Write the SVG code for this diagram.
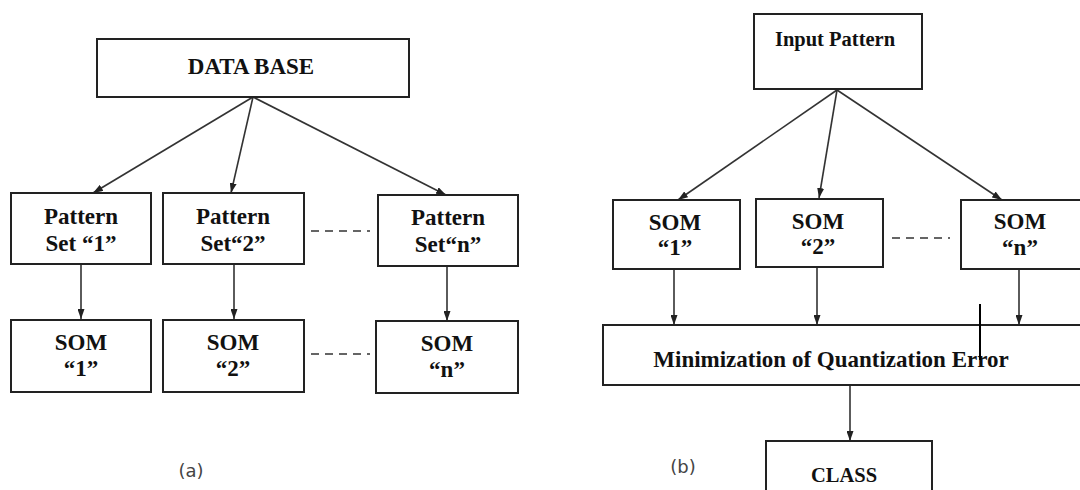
<svg xmlns="http://www.w3.org/2000/svg" width="1080" height="490" viewBox="0 0 1080 490">
  <defs>
    <marker id="ah" viewBox="0 0 10 7" refX="10" refY="3.5" markerWidth="10" markerHeight="7" markerUnits="userSpaceOnUse" orient="auto">
      <path d="M0,0 L10,3.5 L0,7 z" fill="#222"/>
    </marker>
    <style>
      .box { fill: #ffffff; stroke: #222; stroke-width: 2; }
      .t { font-family: "Liberation Serif", "Times New Roman", serif; font-weight: bold; font-size: 23px; fill: #111; text-anchor: middle; }
      .ts { font-size: 20.5px; }
      .conn { stroke: #333; stroke-width: 1.6; fill: none; marker-end: url(#ah); }
      .dash { stroke: #333; stroke-width: 1.6; stroke-dasharray: 8 6; fill: none; }
      .lbl { font-family: "DejaVu Sans", sans-serif; font-size: 18px; fill: #444; text-anchor: middle; }
    </style>
  </defs>
  <rect x="0" y="0" width="1080" height="490" fill="#ffffff"/>

  <!-- (a) -->
  <g id="connectors-a">
    <line class="conn" x1="253" y1="97" x2="93" y2="193"/>
    <line class="conn" x1="253" y1="97" x2="231" y2="193"/>
    <line class="conn" x1="253" y1="97" x2="446" y2="195"/>
    <line class="conn" x1="81" y1="264" x2="81" y2="319"/>
    <line class="conn" x1="234" y1="264" x2="234" y2="319"/>
    <line class="conn" x1="447" y1="266" x2="447" y2="321"/>
    <line class="dash" x1="311" y1="231" x2="370" y2="231"/>
    <line class="dash" x1="311" y1="354" x2="370" y2="354"/>
  </g>

  <g id="database">
    <rect class="box" x="97" y="39" width="312" height="58"/>
    <text class="t" x="251" y="74" font-size="22">DATA BASE</text>
  </g>
  <g id="pattern1">
    <rect class="box" x="11" y="193" width="140" height="71"/>
    <text class="t" x="81" y="224">Pattern</text>
    <text class="t" x="81" y="251">Set “1”</text>
  </g>
  <g id="pattern2">
    <rect class="box" x="163" y="193" width="141" height="71"/>
    <text class="t" x="233" y="224">Pattern</text>
    <text class="t" x="233" y="251">Set“2”</text>
  </g>
  <g id="patternn">
    <rect class="box" x="378" y="195" width="140" height="71"/>
    <text class="t" x="448" y="225">Pattern</text>
    <text class="t" x="448" y="252">Set“n”</text>
  </g>
  <g id="som1a">
    <rect class="box" x="11" y="320" width="140" height="72"/>
    <text class="t" x="81" y="350">SOM</text>
    <text class="t" x="81" y="376">“1”</text>
  </g>
  <g id="som2a">
    <rect class="box" x="163" y="320" width="141" height="72"/>
    <text class="t" x="233" y="350">SOM</text>
    <text class="t" x="233" y="376">“2”</text>
  </g>
  <g id="somna">
    <rect class="box" x="376" y="321" width="142" height="72"/>
    <text class="t" x="447" y="351">SOM</text>
    <text class="t" x="447" y="377">“n”</text>
  </g>
  <text class="lbl" x="191" y="477">(a)</text>

  <!-- (b) -->
  <g id="connectors-b">
    <line class="conn" x1="837" y1="90" x2="678" y2="200"/>
    <line class="conn" x1="837" y1="90" x2="819" y2="198"/>
    <line class="conn" x1="837" y1="90" x2="1002" y2="200"/>
    <line class="conn" x1="674" y1="269" x2="674" y2="325"/>
    <line class="conn" x1="817" y1="267" x2="817" y2="325"/>
    <line class="conn" x1="1019" y1="269" x2="1019" y2="325"/>
    <line class="conn" x1="850" y1="385" x2="850" y2="441"/>
    <line class="dash" x1="892" y1="238" x2="950" y2="238"/>
  </g>

  <g id="input">
    <rect class="box" x="754" y="14" width="168" height="75"/>
    <text class="t ts" x="835" y="46">Input Pattern</text>
  </g>
  <g id="som1b">
    <rect class="box" x="613" y="200" width="127" height="69"/>
    <text class="t" x="675" y="230">SOM</text>
    <text class="t" x="675" y="255">“1”</text>
  </g>
  <g id="som2b">
    <rect class="box" x="756" y="199" width="127" height="68"/>
    <text class="t" x="818" y="229">SOM</text>
    <text class="t" x="818" y="254">“2”</text>
  </g>
  <g id="somnb">
    <rect class="box" x="961" y="200" width="125" height="69"/>
    <text class="t" x="1020" y="229">SOM</text>
    <text class="t" x="1020" y="255">“n”</text>
  </g>
  <g id="minimization">
    <rect class="box" x="603" y="325" width="485" height="60"/>
    <text class="t" x="831" y="367">Minimization of Quantization Error</text>
  </g>
  <line id="stray" x1="980" y1="304" x2="980" y2="360" stroke="#000" stroke-width="2"/>
  <g id="class">
    <rect class="box" x="766" y="441" width="166" height="60"/>
    <text class="t ts" x="844" y="482">CLASS</text>
  </g>
  <text class="lbl" x="683" y="473">(b)</text>
</svg>
